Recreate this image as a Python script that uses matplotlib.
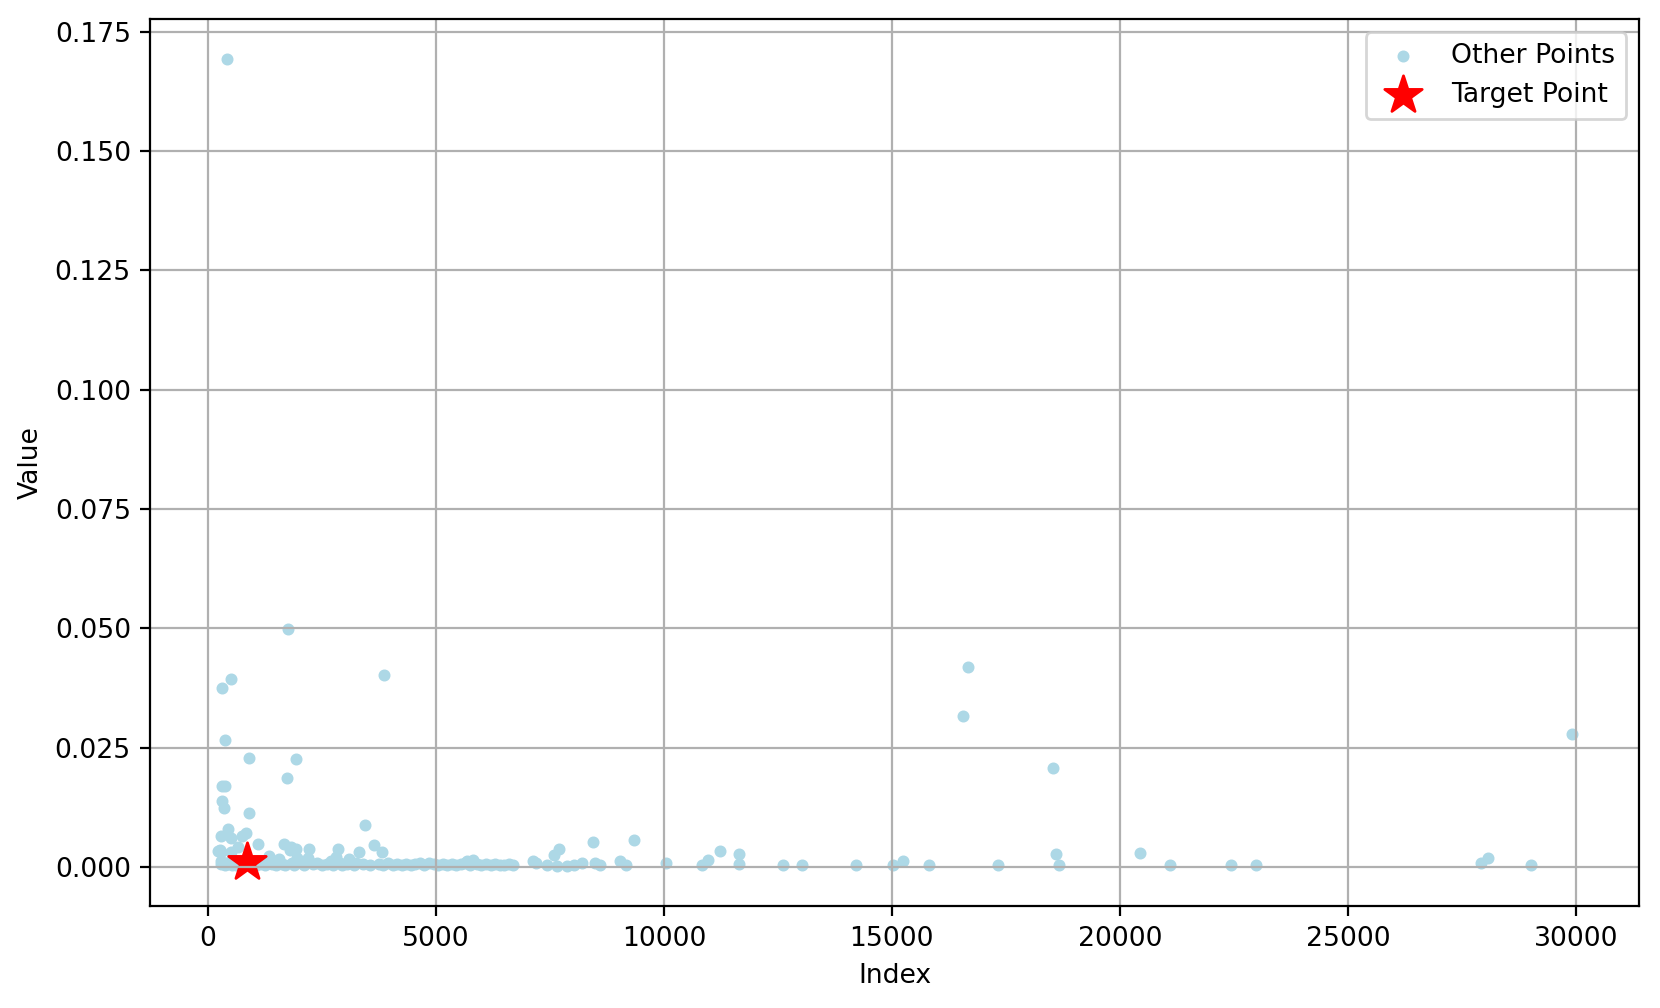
import numpy as np
import matplotlib
matplotlib.use("Agg")
import matplotlib.pyplot as plt

plt.rcParams["font.size"] = 9.6

# scattered points
x_high = [418, 312, 510, 1760, 3870, 370, 910, 1940, 1727, 312, 370, 312, 363, 895, 3455,
          444, 298, 516, 750, 845, 3645, 1100, 1670, 670, 260, 1932, 2216, 2857, 3325, 3828,
          1800, 516, 2814, 1340, 1560, 1945, 2195, 3105, 300, 1830, 225,
          16680, 16565, 18534, 29908]
y_high = [0.1692, 0.0375, 0.0394, 0.0499, 0.0401, 0.0265, 0.0228, 0.0227, 0.0186, 0.0169,
          0.0169, 0.0138, 0.0123, 0.0113, 0.0087, 0.0079, 0.0065, 0.0061, 0.0064, 0.0071,
          0.0045, 0.0048, 0.0048, 0.0041, 0.0036, 0.0038, 0.0038, 0.0038, 0.0031, 0.0031,
          0.0036, 0.0031, 0.0020, 0.0023, 0.0017, 0.0018, 0.0018, 0.0016, 0.0032, 0.0041, 0.0034,
          0.0419, 0.0317, 0.0208, 0.0279]

x_far = [8453, 9335, 7700, 7585, 7130, 9035, 8197, 8497, 8606, 9160, 10057, 5805, 5680,
         7431, 7665, 7884, 8030, 7205, 11223, 11647, 11647, 10960, 10838, 12617, 13026,
         14221, 15031, 15243, 15805, 17322, 18606, 18656, 20444, 21092, 22438, 22982,
         27927, 28073, 29007]
y_far = [0.0051, 0.0056, 0.0038, 0.0025, 0.0013, 0.0013, 0.0009, 0.0009, 0.0004, 0.0004,
         0.0008, 0.0015, 0.0012, 0.0004, 0.0002, 0.0002, 0.0003, 0.0008, 0.0034, 0.0027,
         0.0006, 0.0015, 0.0004, 0.0004, 0.0004, 0.0004, 0.0004, 0.0013, 0.0003, 0.0003,
         0.0027, 0.0004, 0.0030, 0.0004, 0.0004, 0.0004, 0.0009, 0.0018, 0.0003]

x_base = [280, 300, 340, 380, 420, 470, 520, 560, 610, 650, 700, 760, 800, 950, 1000, 1050,
          1150, 1200, 1250, 1300, 1400, 1450, 1500, 1620, 1700, 1850, 1900, 2050, 2100, 2300,
          2400, 2500, 2620, 2700, 2750, 2900, 2950, 3050, 3200, 3250, 3400, 3550,
          3750, 3850, 3950, 4050, 4150, 4250, 4350, 4450, 4550, 4650, 4750, 4850, 4950, 5050,
          5150, 5250, 5350, 5450, 5550, 5650, 5750, 5900, 6000, 6100, 6200, 6300, 6400, 6500,
          6600, 6700]
y_base = [0.0012, 0.0005, 0.0009, 0.0003, 0.0006, 0.0011, 0.0004, 0.0008, 0.0003, 0.0013,
          0.0006, 0.0004, 0.0010, 0.0005, 0.0008, 0.0004, 0.0006, 0.0012, 0.0004, 0.0007,
          0.0005, 0.0009, 0.0004, 0.0006, 0.0004, 0.0008, 0.0004, 0.0007, 0.0004, 0.0006,
          0.0009, 0.0004, 0.0006, 0.0012, 0.0004, 0.0007, 0.0004, 0.0006, 0.0004, 0.0008,
          0.0006, 0.0004,
          0.0006, 0.0004, 0.0007, 0.0003, 0.0005, 0.0004, 0.0006, 0.0003, 0.0005, 0.0007,
          0.0004, 0.0008, 0.0005, 0.0003, 0.0006, 0.0004, 0.0005, 0.0003, 0.0006, 0.0008,
          0.0004, 0.0005, 0.0003, 0.0006, 0.0004, 0.0005, 0.0003, 0.0004, 0.0006, 0.0004]

x_target = [858]
y_target = [0.0011]

x_other = x_high + x_far + x_base
y_other = y_high + y_far + y_base

fig = plt.figure(figsize=(8.3, 5.04), dpi=200)
ax = fig.add_axes([0.0906, 0.101, 0.897, 0.880])
ax.scatter(x_other, y_other, s=11, color="lightblue", label="Other Points")
ax.scatter(x_target, y_target, s=200, color="red", marker="*", label="Target Point")
ax.set_xlabel("Index")
ax.set_ylabel("Value")
ax.grid(True)
ax.legend(loc="upper right")
fig.savefig("out.png", dpi=200)
